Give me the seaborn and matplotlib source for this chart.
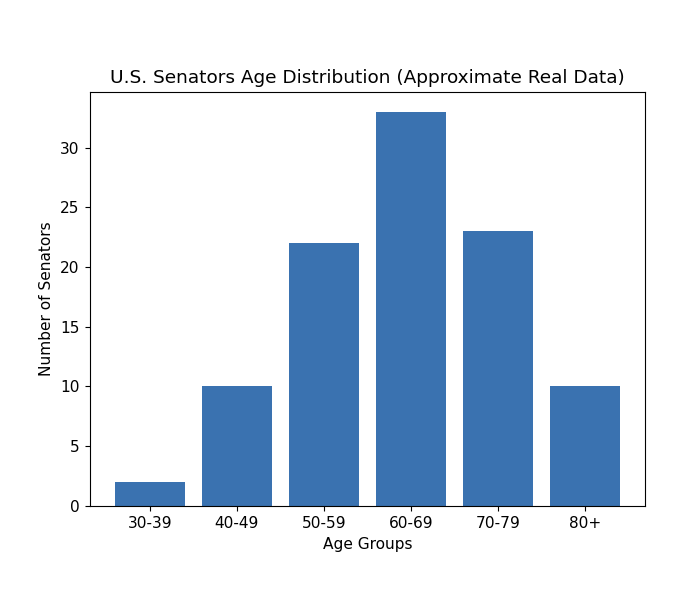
import matplotlib
matplotlib.use("Agg")
import matplotlib.pyplot as plt
import seaborn as sns
import pandas as pd

age_groups = ["30-39", "40-49", "50-59", "60-69", "70-79", "80+"]
senators = [2, 10, 22, 33, 23, 10]

df = pd.DataFrame({"Age Groups": age_groups, "Number of Senators": senators})

plt.rcParams["font.size"] = 11.1
fig = plt.figure(figsize=(6.8, 5.98), dpi=100)
ax = fig.add_axes([0.132, 0.154, 0.817, 0.692])
sns.barplot(data=df, x="Age Groups", y="Number of Senators", color="#3a72b0",
            saturation=1, width=0.8, ax=ax)
ax.set_xlim(-0.69, 5.69)
ax.set_ylim(0, 34.65)
ax.tick_params(labelsize=11.1, length=3.9)
ax.set_title("U.S. Senators Age Distribution (Approximate Real Data)", fontsize=13.3, pad=6.5)
ax.set_xlabel("Age Groups", fontsize=11.1)
ax.set_ylabel("Number of Senators", fontsize=11.1)
fig.savefig("out.png", dpi=100)
